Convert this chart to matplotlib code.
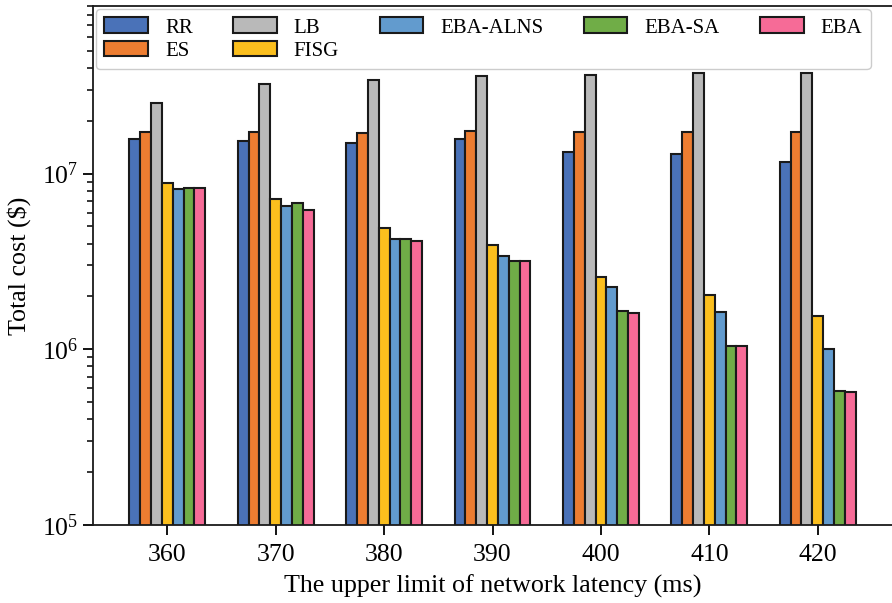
import numpy as np
import matplotlib
matplotlib.use("Agg")
import matplotlib.pyplot as plt

plt.rcParams['font.family'] = ['Liberation Serif', 'DejaVu Serif']
plt.rcParams['mathtext.fontset'] = 'stix'

latency = [360, 370, 380, 390, 400, 410, 420]
methods = ['RR', 'ES', 'LB', 'FISG', 'EBA-ALNS', 'EBA-SA', 'EBA']
colors = ['#4A72B8', '#ED7D31', '#B9B9B9', '#FBBF1E', '#629BCE', '#70AD47', '#F66B97']

rr = [1.58e7, 1.54e7, 1.49e7, 1.57e7, 1.33e7, 1.30e7, 1.17e7]
es = [1.73e7, 1.73e7, 1.71e7, 1.75e7, 1.73e7, 1.72e7, 1.72e7]
lb = [2.51e7, 3.23e7, 3.42e7, 3.61e7, 3.66e7, 3.75e7, 3.75e7]
fisg = [8.85e6, 7.18e6, 4.88e6, 3.92e6, 2.58e6, 2.03e6, 1.54e6]
eba_alns = [8.18e6, 6.51e6, 4.22e6, 3.41e6, 2.27e6, 1.63e6, 1.00e6]
eba_sa = [8.32e6, 6.81e6, 4.22e6, 3.19e6, 1.66e6, 1.04e6, 5.76e5]
eba = [8.32e6, 6.21e6, 4.11e6, 3.19e6, 1.60e6, 1.04e6, 5.70e5]

series = [rr, es, lb, fisg, eba_alns, eba_sa, eba]

fig = plt.figure(figsize=(8.92, 6.03), dpi=100)
ax = fig.add_axes([0.1043, 0.1294, 0.8957, 0.8607])

x = np.array(latency, dtype=float)
w = 1.0
for i, (vals, name, c) in enumerate(zip(series, methods, colors)):
    ax.bar(x + (i - 3) * w, vals, width=w, color=c, edgecolor='#1a1a1a',
           linewidth=1.5, label=name)

ax.set_yscale('log')
ax.set_ylim(1e5, 9e7)
ax.set_xticks(latency)
ax.set_xticklabels([str(v) for v in latency])
ax.set_xlabel('The upper limit of network latency (ms)', fontsize=18.7, labelpad=6)
ax.set_ylabel('Total cost ($)', fontsize=18.7, labelpad=8)

ax.tick_params(axis='both', which='major', labelsize=18.5, length=7, width=1.3, direction='out')
ax.tick_params(axis='x', which='major', pad=7)
ax.tick_params(axis='y', which='minor', length=4, width=1.1, direction='out')
ax.tick_params(axis='x', which='minor', bottom=False)
ax.spines['right'].set_visible(False)
for s in ['left', 'bottom', 'top']:
    ax.spines[s].set_linewidth(1.3)
    ax.spines[s].set_color('#1a1a1a')

ax.legend(loc='upper left', ncol=5, fontsize=15, frameon=True, fancybox=True,
          edgecolor='0.8', framealpha=1.0, borderaxespad=0.15, handlelength=2.1,
          handleheight=0.8, labelspacing=0.14, columnspacing=1.95)

fig.savefig('out.png', dpi=100)
